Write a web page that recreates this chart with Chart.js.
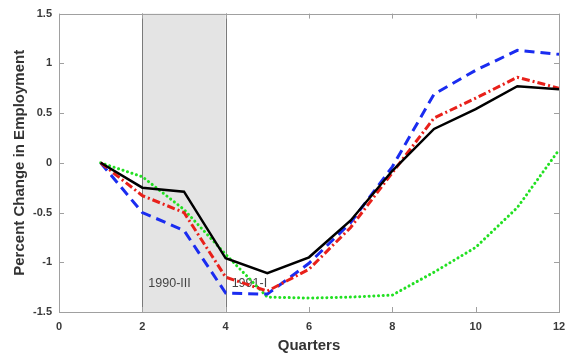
<!DOCTYPE html>
<html>
<head>
<meta charset="utf-8">
<script src="https://cdn.jsdelivr.net/npm/chart.js@4/dist/chart.umd.min.js"></script>
<style>
  html,body{margin:0;padding:0;background:#fff;}
  #wrap{width:576px;height:358px;}
</style>
</head>
<body>
<div id="wrap"><canvas id="c"></canvas></div>
<script>
/* Empleo tras la recesión de 1990 */
const quarters = [1,2,3,4,5,6,7,8,9,10,11,12];
const serieSolid  = [0,-0.25,-0.29,-0.96,-1.11,-0.95,-0.58,-0.08,0.34,0.54,0.77,0.74];
const serieDashDot= [0,-0.33,-0.50,-1.15,-1.29,-1.07,-0.65,-0.10,0.45,0.65,0.86,0.75];
const serieDash   = [0,-0.50,-0.68,-1.31,-1.32,-1.01,-0.60,-0.04,0.69,0.93,1.13,1.09];
const serieDot    = [0,-0.14,-0.47,-0.92,-1.35,-1.36,-1.35,-1.33,-1.10,-0.85,-0.45,0.13];
const recession   = [2,4];
const markLabels  = [{q:2, text:'1990-III'}, {q:4, text:'1991-I'}];
const xTicks = [0,2,4,6,8,10,12];
const yTicks = [-1.5,-1,-0.5,0,0.5,1,1.5];

const P = {black:'#000000', red:'#e8201a', blue:'#1a2cf0', green:'#22e022', axis:'#a0a0a0', text:'#3a3a3a', shade:'#e4e4e4', shadeLine:'#7a7a7a'};
const pts = arr => arr.map((v,i)=>({x:quarters[i], y:v}));

const boxPlugin = {
  id:'box',
  beforeDatasetsDraw(chart){
    const {ctx, chartArea:a, scales:{x}} = chart;
    const x0 = x.getPixelForValue(recession[0]), x1 = x.getPixelForValue(recession[1]);
    ctx.save();
    ctx.fillStyle = P.shade;
    ctx.fillRect(x0, a.top, x1-x0, a.bottom-a.top);
    ctx.strokeStyle = P.shadeLine; ctx.lineWidth = 1;
    ctx.beginPath();
    ctx.moveTo(Math.round(x0)+0.5, a.top); ctx.lineTo(Math.round(x0)+0.5, a.bottom);
    ctx.moveTo(Math.round(x1)+0.5, a.top); ctx.lineTo(Math.round(x1)+0.5, a.bottom);
    ctx.stroke();
    ctx.fillStyle = '#444';
    ctx.font = '12.5px "Liberation Sans", Arial, sans-serif';
    ctx.textBaseline = 'middle';
    markLabels.forEach(m => ctx.fillText(m.text, x.getPixelForValue(m.q)+6, chart.scales.y.getPixelForValue(-1.21)));
    ctx.restore();
  },
  afterDraw(chart){
    const {ctx, chartArea:a, scales:{x,y}} = chart;
    ctx.save();
    ctx.strokeStyle = P.axis; ctx.lineWidth = 1;
    ctx.strokeRect(Math.round(a.left)+0.5, Math.round(a.top)+0.5, Math.round(a.right-a.left), Math.round(a.bottom-a.top));
    ctx.beginPath();
    xTicks.forEach(v => {
      const px = Math.round(x.getPixelForValue(v))+0.5;
      ctx.moveTo(px, a.bottom); ctx.lineTo(px, a.bottom-5);
      ctx.moveTo(px, a.top); ctx.lineTo(px, a.top+5);
    });
    yTicks.forEach(v => {
      const py = Math.round(y.getPixelForValue(v))+0.5;
      ctx.moveTo(a.left, py); ctx.lineTo(a.left+5, py);
      ctx.moveTo(a.right, py); ctx.lineTo(a.right-5, py);
    });
    ctx.stroke();
    ctx.restore();
  }
};

const tickFont = {family:'"Liberation Sans", Arial, sans-serif', size:11, weight:'bold'};
const titleFont = {family:'"Liberation Sans", Arial, sans-serif', size:15, weight:'bold'};

new Chart(document.getElementById('c'), {
  type:'line',
  data:{datasets:[
    {label:'solid', data:pts(serieSolid), borderColor:P.black, borderWidth:2.5, pointRadius:0, tension:0},
    {label:'dashdot', data:pts(serieDashDot), borderColor:P.red, borderWidth:3, borderDash:[8,3,2,3], pointRadius:0, tension:0},
    {label:'dash', data:pts(serieDash), borderColor:P.blue, borderWidth:3, borderDash:[10,6], pointRadius:0, tension:0},
    {label:'dot', data:pts(serieDot), borderColor:P.green, borderWidth:3, borderDash:[0.1,4.6], borderCapStyle:'round', pointRadius:0, tension:0}
  ]},
  options:{
    responsive:true, maintainAspectRatio:false, animation:false,
    layout:{padding:{top:12, right:17, left:0, bottom:0}},
    plugins:{legend:{display:false}, tooltip:{enabled:false}},
    scales:{
      x:{type:'linear', min:0, max:12,
        afterBuildTicks: s => { s.ticks = xTicks.map(v=>({value:v})); },
        afterFit: s => { s.height = 46; },
        grid:{display:false, drawTicks:false}, border:{display:false},
        ticks:{font:tickFont, color:P.text, padding:8, maxRotation:0, callback:v=>String(v)},
        title:{display:true, text:'Quarters', font:titleFont, color:'#333', padding:{top:0, bottom:3}}},
      y:{min:-1.5, max:1.5,
        afterBuildTicks: s => { s.ticks = yTicks.map(v=>({value:v})); },
        afterFit: s => { s.width = 59; },
        grid:{display:false, drawTicks:false}, border:{display:false},
        ticks:{font:tickFont, color:P.text, padding:7, callback:v=>String(v)},
        title:{display:true, text:'Percent Change in Employment', font:titleFont, color:'#333', padding:{top:11, bottom:0}}}
    }
  },
  plugins:[boxPlugin]
});
</script>
</body>
</html>
